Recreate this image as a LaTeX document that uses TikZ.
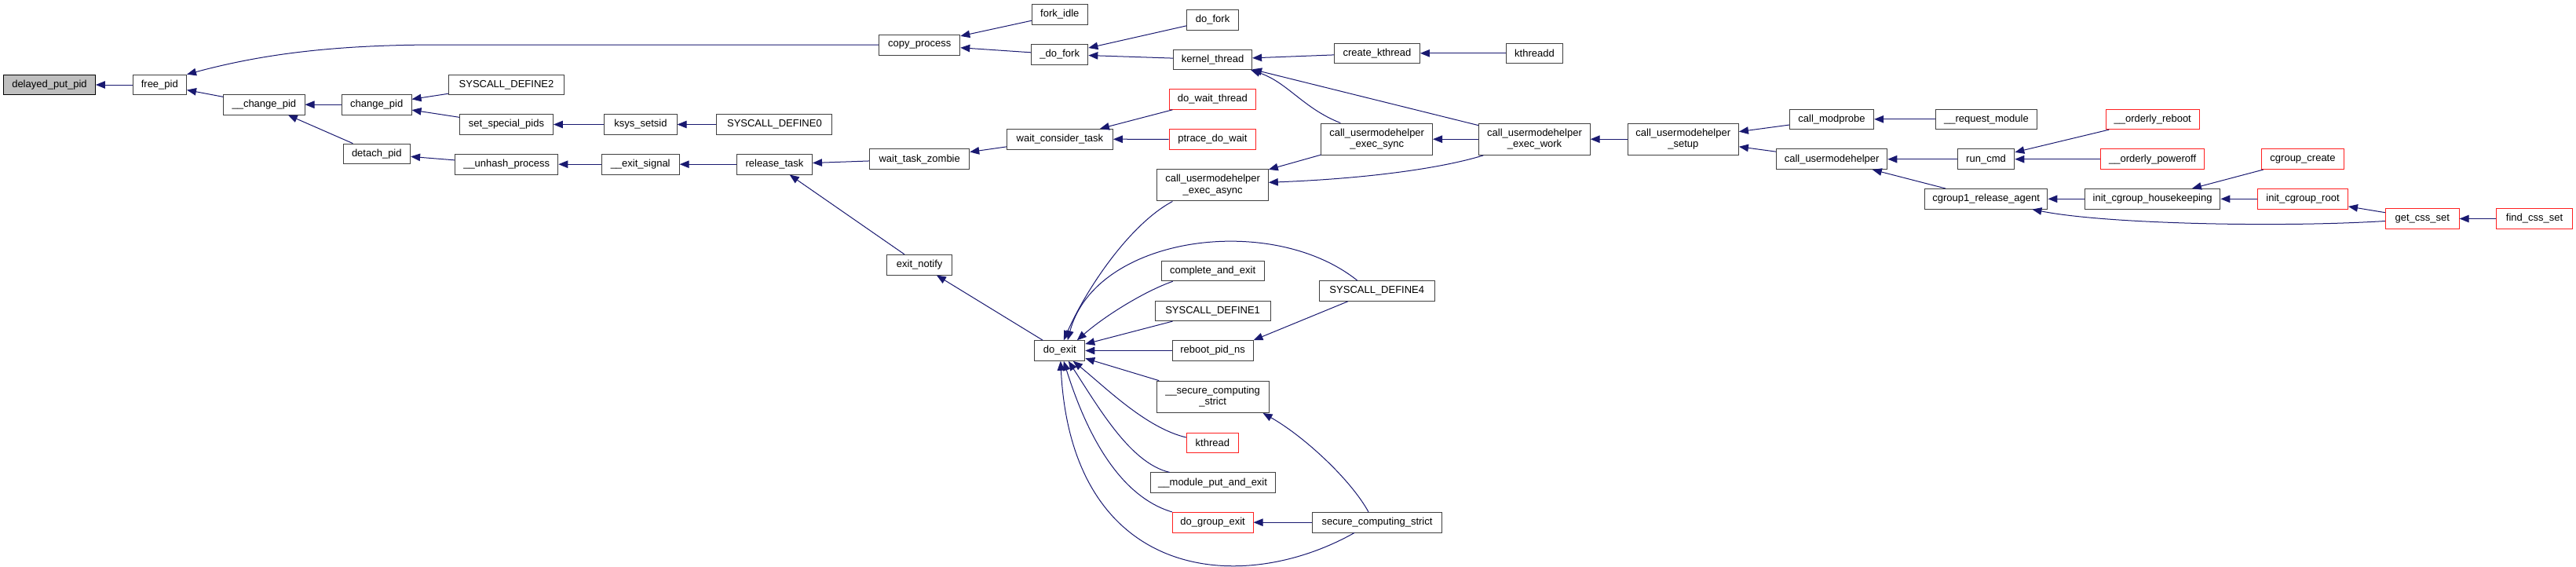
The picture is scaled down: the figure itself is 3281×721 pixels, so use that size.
\documentclass[tikz,border=0pt]{standalone}
\usepackage{fontspec}
\setmainfont{Liberation Sans}
\usepackage{xcolor}
\usetikzlibrary{arrows.meta}

\definecolor{edgeblue}{HTML}{191970}
\definecolor{rootgray}{HTML}{BFBFBF}
\definecolor{boxline}{HTML}{404040}
\definecolor{truncred}{HTML}{FF2020}

\begin{document}
\begin{tikzpicture}[x=1pt, y=-1pt,
    func/.style={rectangle, draw=boxline, fill=white, line width=1pt, minimum height=25.6pt, inner sep=0pt, align=center, font=\fontsize{13}{14.5}\selectfont},
    trunc/.style={func, draw=truncred},
    root/.style={func, draw=black, fill=rootgray},
    tall/.style={minimum height=40.3pt},
    call/.style={<-, >={Triangle[length=12pt, width=9.5pt]}, draw=edgeblue, fill=none, line width=1pt}
]
\useasboundingbox (0,0) rectangle (3281,721);

\node[root, minimum width=116.8pt] (dpp) at (63,108) {delayed\_put\_pid};
\node[func, minimum width=68.4pt] (freepid) at (203.3,108) {free\_pid};
\node[func, minimum width=103.2pt] (uchangepid) at (336.4,133.2) {\_\_change\_pid};
\node[func, minimum width=88.7pt] (changepid) at (479.7,133.2) {change\_pid};
\node[func, minimum width=85.6pt] (detachpid) at (479.8,195.9) {detach\_pid};
\node[func, minimum width=146.9pt] (sysdef2) at (645,108) {SYSCALL\_DEFINE2};
\node[func, minimum width=118.9pt] (setspecial) at (645,158.5) {set\_special\_pids};
\node[func, minimum width=92.2pt] (ksyssetsid) at (816,158.5) {ksys\_setsid};
\node[func, minimum width=146.9pt] (sysdef0) at (986.4,158.5) {SYSCALL\_DEFINE0};
\node[func, minimum width=131.2pt] (unhash) at (645.2,209.2) {\_\_unhash\_process};
\node[func, minimum width=99pt] (exitsignal) at (815.7,209.2) {\_\_exit\_signal};
\node[func, minimum width=96.1pt] (releasetask) at (986.5,209.2) {release\_task};

\node[func, minimum width=103.2pt] (copyproc) at (1171.2,57.2) {copy\_process};
\node[func, minimum width=127pt] (waitzombie) at (1171.2,202.7) {wait\_task\_zombie};
\node[func, minimum width=82.8pt] (exitnotify) at (1171.2,337.2) {exit\_notify};
\node[func, minimum width=70.9pt] (forkidle) at (1349.8,18.5) {fork\_idle};
\node[func, minimum width=72.3pt] (udofork) at (1349.7,69.3) {\_do\_fork};
\node[func, minimum width=135pt] (waitconsider) at (1349.9,177.2) {wait\_consider\_task};
\node[func, minimum width=63.9pt] (doexit) at (1349.8,446.5) {do\_exit};

\node[func, minimum width=65.6pt] (dofork) at (1544.6,25.3) {do\_fork};
\node[func, minimum width=100pt] (kernelthread) at (1544.6,75.8) {kernel\_thread};
\node[trunc, minimum width=110.8pt] (dowaitthread) at (1544.4,126.5) {do\_wait\_thread};
\node[trunc, minimum width=110.8pt] (ptracewait) at (1544.4,177.3) {ptrace\_do\_wait};
\node[func, tall, minimum width=141.4pt] (execasync) at (1544.6,235.8) {call\_usermodehelper\\\_exec\_async};
\node[func, minimum width=130.8pt] (completeexit) at (1544.6,345) {complete\_and\_exit};
\node[func, minimum width=147pt] (sysdef1) at (1544.6,395.8) {SYSCALL\_DEFINE1};
\node[func, minimum width=102.8pt] (rebootns) at (1544.6,446.5) {reboot\_pid\_ns};
\node[func, tall, minimum width=142.8pt] (usecstrict) at (1544.6,505.3) {\_\_secure\_computing\\\_strict};
\node[trunc, minimum width=66pt] (kthreadfn) at (1544.4,564) {kthread};
\node[func, minimum width=158.9pt] (moduleexit) at (1544.6,614.7) {\_\_module\_put\_and\_exit};
\node[trunc, minimum width=102.8pt] (dogroupexit) at (1544.6,665.2) {do\_group\_exit};

\node[func, minimum width=108.8pt] (createkthread) at (1754,67.8) {create\_kthread};
\node[func, tall, minimum width=141.7pt] (execsync) at (1753.7,177.2) {call\_usermodehelper\\\_exec\_sync};
\node[func, minimum width=147pt] (sysdef4) at (1753.8,370.5) {SYSCALL\_DEFINE4};
\node[func, minimum width=164.8pt] (secstrict) at (1754,665.2) {secure\_computing\_strict};
\node[func, minimum width=72.6pt] (kthreadd) at (1954.5,67.8) {kthreadd};
\node[func, tall, minimum width=141.3pt] (execwork) at (1954.5,177.2) {call\_usermodehelper\\\_exec\_work};
\node[func, tall, minimum width=141.2pt] (umhsetup) at (2143.8,177.2) {call\_usermodehelper\\\_setup};

\node[func, minimum width=107.3pt] (modprobe) at (2333,151.8) {call\_modprobe};
\node[func, minimum width=141.4pt] (callumh) at (2333.1,202.7) {call\_usermodehelper};
\node[func, minimum width=128.8pt] (reqmodule) at (2529.9,151.8) {\_\_request\_module};
\node[func, minimum width=72.6pt] (runcmd) at (2529.5,202.7) {run\_cmd};
\node[func, minimum width=156.4pt] (releaseagent) at (2529.7,253.3) {cgroup1\_release\_agent};
\node[trunc, minimum width=118.9pt] (orderlyreboot) at (2741.7,151.8) {\_\_orderly\_reboot};
\node[trunc, minimum width=132.5pt] (orderlypoweroff) at (2741.6,202.7) {\_\_orderly\_poweroff};
\node[func, minimum width=172.5pt] (housekeeping) at (2741.6,253.3) {init\_cgroup\_housekeeping};
\node[trunc, minimum width=104.5pt] (cgcreate) at (2933,202.7) {cgroup\_create};
\node[trunc, minimum width=114.9pt] (cgroot) at (2933,253.3) {init\_cgroup\_root};
\node[trunc, minimum width=93.7pt] (getcss) at (3085.2,278.5) {get\_css\_set};
\node[trunc, minimum width=96.3pt] (findcss) at (3228,278.5) {find\_css\_set};

\draw[call] (dpp) -- (freepid);
\draw[call] (freepid.north east) .. controls (330,70) and (420,57) .. (560,57) -- (copyproc.west);
\draw[call] (freepid) -- (uchangepid);
\draw[call] (uchangepid) -- (changepid);
\draw[call] (uchangepid) -- (detachpid);
\draw[call] (changepid) -- (sysdef2);
\draw[call] (changepid) -- (setspecial);
\draw[call] (setspecial) -- (ksyssetsid);
\draw[call] (ksyssetsid) -- (sysdef0);
\draw[call] (detachpid) -- (unhash);
\draw[call] (unhash) -- (exitsignal);
\draw[call] (exitsignal) -- (releasetask);
\draw[call] (releasetask) -- (waitzombie);
\draw[call] (releasetask) -- (exitnotify);

\draw[call] (copyproc) -- (forkidle);
\draw[call] (copyproc) -- (udofork);
\draw[call] (udofork) -- (dofork);
\draw[call] (udofork) -- (kernelthread);
\draw[call] (kernelthread) -- (createkthread);
\draw[call] (createkthread) -- (kthreadd);
\draw[call] ([xshift=-2pt]kernelthread.south east) .. controls (1640,105) and (1660,138) .. ([xshift=25pt]execsync.north west);
\draw[call] (kernelthread) -- (execwork);
\draw[call] (waitzombie) -- (waitconsider);
\draw[call] (waitconsider) -- (dowaitthread);
\draw[call] (waitconsider) -- (ptracewait);
\draw[call] (execasync) -- (execsync);
\draw[call] ([yshift=3.5pt]execasync.east) .. controls (1750,227) and (1840,213) .. ([xshift=6pt]execwork.south west);
\draw[call] (execsync) -- (execwork);
\draw[call] (execwork) -- (umhsetup);
\draw[call] (umhsetup) -- (modprobe);
\draw[call] (umhsetup) -- (callumh);
\draw[call] (modprobe) -- (reqmodule);
\draw[call] (callumh) -- (runcmd);
\draw[call] (callumh) -- (releaseagent);
\draw[call] (runcmd) -- (orderlyreboot);
\draw[call] (runcmd) -- (orderlypoweroff);
\draw[call] (releaseagent) -- (housekeeping);
\draw[call] ([xshift=-20pt]releaseagent.south east) .. controls (2680,285) and (2900,290) .. ([yshift=-3pt]getcss.west);
\draw[call] (housekeeping) -- (cgcreate);
\draw[call] (housekeeping) -- (cgroot);
\draw[call] (cgroot) -- (getcss);
\draw[call] (getcss) -- (findcss);

\draw[call] (exitnotify) -- (doexit);
\draw[call] ([xshift=5pt]doexit.north) .. controls (1385,365) and (1440,285) .. ([xshift=20pt]execasync.south west);
\draw[call] ([xshift=10pt]doexit.north) .. controls (1395,300) and (1620,270) .. ([xshift=-25pt]sysdef4.north);
\draw[call] ([xshift=22pt]doexit.north) .. controls (1410,400) and (1460,370) .. ([xshift=15pt]completeexit.south west);
\draw[call] (doexit) -- (sysdef1);
\draw[call] (doexit) -- (rebootns);
\draw[call] (rebootns.north east) -- ([xshift=37pt]sysdef4.south west);
\draw[call] (doexit) -- (usecstrict);
\draw[call] ([xshift=-8pt]usecstrict.south east) .. controls (1660,555) and (1720,610) .. ([xshift=-11pt]secstrict.north);
\draw[call] ([xshift=17pt]doexit.south) .. controls (1410,495) and (1460,545) .. ([yshift=7pt]kthreadfn.west);
\draw[call] ([xshift=11pt]doexit.south) .. controls (1400,520) and (1440,590) .. ([xshift=25pt]moduleexit.north west);
\draw[call] ([xshift=5pt]doexit.south) .. controls (1380,540) and (1420,630) .. (dogroupexit.north west);
\draw[call] (dogroupexit) -- (secstrict);
\draw[call] ([xshift=1pt]doexit.south) .. controls (1365,740) and (1580,760) .. ([xshift=-29pt]secstrict.south);

\end{tikzpicture}
\end{document}
